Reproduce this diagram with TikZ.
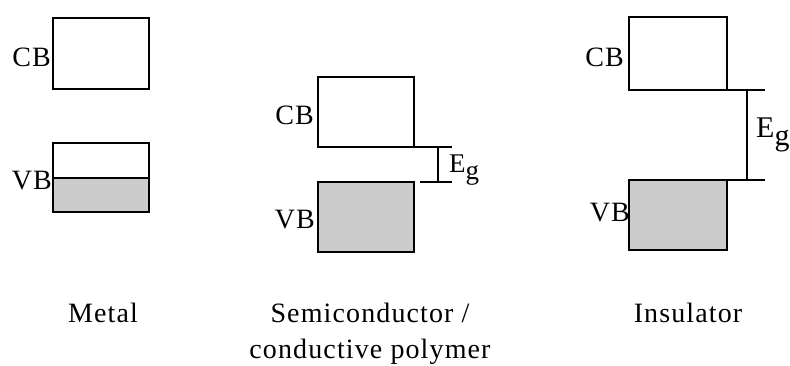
\documentclass[tikz,border=0pt]{standalone}
\usepackage{fontspec}
\setmainfont{Liberation Serif}[LetterSpace=4]
\newfontfamily\egfont{Liberation Serif}
\begin{document}
\begin{tikzpicture}[x=1pt,y=-1pt,
  band/.style={draw=black, line width=1.7pt, inner sep=0pt, outer sep=0pt, anchor=north west},
  filled/.style={band, fill=black!20},
  lbl/.style={font=\fontsize{28}{32}\selectfont, inner sep=0pt},
  gapline/.style={line width=1.2pt}]
\useasboundingbox (0,0) rectangle (790,366);
% Metal
\node[band, minimum width=96pt, minimum height=71pt] (mcb) at (53,18) {};
\node[band, minimum width=96pt, minimum height=35pt] (mvbt) at (53,143) {};
\node[filled, minimum width=96pt, minimum height=34pt] (mvb) at (53,178) {};
\node[lbl, anchor=east] (mcbl) at ([xshift=-2pt,yshift=-4pt]mcb.west) {CB};
\node[lbl, anchor=east] (mvbl) at ([xshift=-1pt,yshift=-3pt]mvb.north west) {VB};
\node[lbl, anchor=base] (mname) at (103,322) {Metal};
% Semiconductor
\node[band, minimum width=96pt, minimum height=70pt] (scb) at (318,77) {};
\node[filled, minimum width=96pt, minimum height=70pt] (svb) at (318,182) {};
\coordinate (st) at (452,147);
\coordinate (sbs) at (420,182);
\coordinate (sb) at (452,182);
\coordinate (stv) at (438,147);
\coordinate (sbv) at (438,182);
\draw[gapline] (scb.south east) -- (st);
\draw[gapline] (sbs) -- (sb);
\draw[gapline] (stv) -- (sbv);
\node[lbl, anchor=east] (scbl) at ([xshift=-4pt,yshift=-3pt]scb.west) {CB};
\node[lbl, anchor=east] (svbl) at ([xshift=-3pt,yshift=-3pt]svb.west) {VB};
\node[lbl, font=\egfont\fontsize{27}{30}\selectfont, anchor=base west] (seg) at (449,173) {E\raisebox{-7pt}{g}};
\node[lbl, anchor=base] (sname1) at (370,322) {Semiconductor /};
\node[lbl, anchor=base] (sname2) at (370,358) {conductive polymer};
% Insulator
\node[band, minimum width=98pt, minimum height=73pt] (icb) at (629,17) {};
\node[filled, minimum width=98pt, minimum height=70pt] (ivb) at (629,180) {};
\coordinate (it) at (765,90);
\coordinate (ib) at (765,180);
\coordinate (itv) at (747,90);
\coordinate (ibv) at (747,180);
\draw[gapline] (icb.south east) -- (it);
\draw[gapline] (ivb.north east) -- (ib);
\draw[gapline] (itv) -- (ibv);
\node[lbl, anchor=east] (icbl) at ([xshift=-5pt,yshift=-4pt]icb.west) {CB};
\node[lbl, anchor=east] (ivbl) at ([xshift=1pt,yshift=2pt]ivb.west) {VB};
\node[lbl, font=\egfont\fontsize{30}{34}\selectfont, anchor=base west] (ieg) at (756,138) {E\raisebox{-8pt}{g}};
\node[lbl, anchor=base] (iname) at (688,322) {Insulator};
\end{tikzpicture}
\end{document}
